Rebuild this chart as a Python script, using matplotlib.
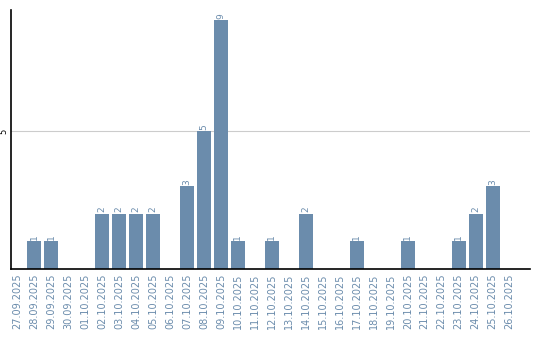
import matplotlib
matplotlib.use("Agg")
import matplotlib.pyplot as plt

dates = ["27.09.2025", "28.09.2025", "29.09.2025", "30.09.2025", "01.10.2025",
         "02.10.2025", "03.10.2025", "04.10.2025", "05.10.2025", "06.10.2025",
         "07.10.2025", "08.10.2025", "09.10.2025", "10.10.2025", "11.10.2025",
         "12.10.2025", "13.10.2025", "14.10.2025", "15.10.2025", "16.10.2025",
         "17.10.2025", "18.10.2025", "19.10.2025", "20.10.2025", "21.10.2025",
         "22.10.2025", "23.10.2025", "24.10.2025", "25.10.2025", "26.10.2025"]
values = [0, 1, 1, 0, 0, 2, 2, 2, 2, 0, 3, 5, 9, 1, 0, 1, 0, 2, 0, 0,
          1, 0, 0, 1, 0, 0, 1, 2, 3, 0]
yticks = [5]

color = "#6b8cac"
fig = plt.figure(figsize=(5.4, 3.4), dpi=100)
ax = fig.add_axes([0.0204, 0.2088, 0.9606, 0.7618])
x = list(range(len(dates)))
bars = ax.bar(x, values, width=0.82, color=color, zorder=2)
for xi, v in zip(x, values):
    if v > 0:
        ax.text(xi, v + 0.05, str(v), rotation=90, ha="center", va="bottom",
                fontsize=6.5, color=color)
ax.set_xlim(-0.353, 30.18)
ax.set_ylim(0, 9.38)
ax.set_yticks(yticks)
ax.set_yticklabels([str(t) for t in yticks], rotation=90, fontsize=6, va="center")
ax.yaxis.grid(True, color="#cccccc", linewidth=0.8, zorder=0)
ax.set_xticks(x)
ax.set_xticklabels(dates, rotation=90, fontsize=7, color=color)
ax.tick_params(axis="both", length=0, pad=3)
ax.tick_params(axis="y", pad=2)
for s in ["top", "right"]:
    ax.spines[s].set_visible(False)
ax.spines["left"].set_linewidth(1.2)
ax.spines["bottom"].set_linewidth(1.2)
fig.savefig("out.png", dpi=100)
